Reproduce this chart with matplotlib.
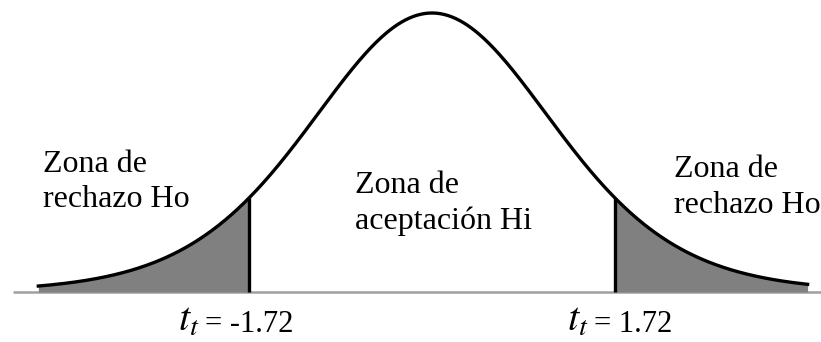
import numpy as np
import matplotlib
matplotlib.use("Agg")
import matplotlib.pyplot as plt

# critical values shown on the chart
t_crit = [-1.72, 1.72]
tick_labels = ["= -1.72", "= 1.72"]

# curve shape (t-like density, df and scale)
df = 10
scale = 1.163
curve_range = [-3.70, 3.53]
baseline_range = [-3.94, 3.66]

zone_left = ["Zona de", "rechazo Ho"]
zone_mid = ["Zona de", "aceptación Hi"]
zone_right = ["Zona de", "rechazo Ho"]

W, H = 821, 342


def density(x):
    u = x / scale
    return (1 + u ** 2 / df) ** (-(df + 1) / 2.0)


plt.rcParams['mathtext.fontset'] = 'stix'
fig = plt.figure(figsize=(W / 100.0, H / 100.0), dpi=100, facecolor='white')
ax = fig.add_axes([0, 0, 1, 1])
ax.set_xlim(-432 / 106.4, (W - 432) / 106.4)
ax.set_ylim(-(H - 292) / 279.0, 292 / 279.0)
ax.axis('off')

# baseline
ax.plot(baseline_range, [0, 0], color='#a0a0a0', lw=1.8, solid_capstyle='butt', zorder=1)

x = np.linspace(curve_range[0], curve_range[1], 600)
y = density(x)

# shaded tails
left = x <= t_crit[0]
right = x >= t_crit[1]
ax.fill_between(x[left], 0, y[left], color='#808080', lw=0, zorder=2)
ax.fill_between(x[right], 0, y[right], color='#808080', lw=0, zorder=2)

# curve
ax.plot(x, y, color='black', lw=2.4, zorder=3)

# cut-off lines
for tc in t_crit:
    ax.plot([tc, tc], [0, density(tc)], color='black', lw=2.4, solid_capstyle='butt', zorder=3)


def put(px, py, s, size=23):
    fig.text(px / W, 1 - py / H, s, fontsize=size, family='Liberation Serif',
             ha='left', va='baseline')


put(43, 172, zone_left[0])
put(43, 207, zone_left[1])
put(355, 193, zone_mid[0])
put(355, 229, zone_mid[1])
put(674, 177, zone_right[0])
put(674, 213, zone_right[1])

# t_t labels under the cut-offs
for px, lab in zip([178, 567], tick_labels):
    fig.text(px / W, 1 - 331 / H, "$t_t$", fontsize=29, ha='left', va='baseline')
    put(px + 27, 332, lab, size=22)

fig.savefig("out.png", dpi=100, facecolor='white')
